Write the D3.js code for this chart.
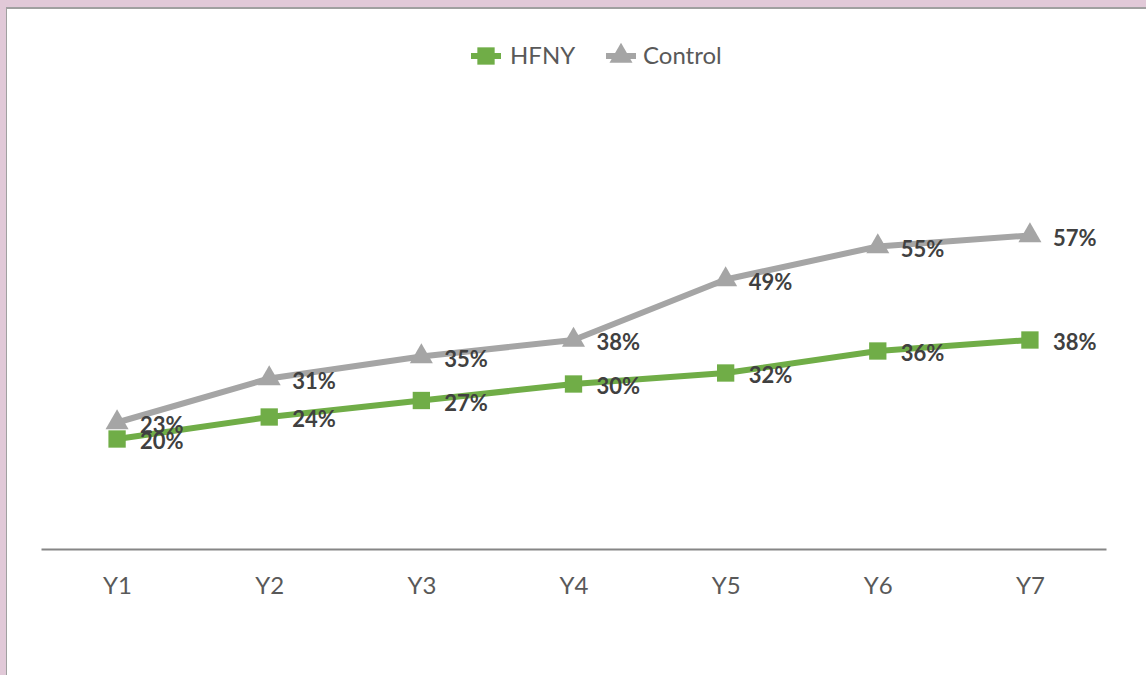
<!DOCTYPE html>
<html>
<head>
<meta charset="utf-8">
<script src="https://cdn.jsdelivr.net/npm/d3@7"></script>
<style>
  html, body { margin: 0; padding: 0; background: #fff; }
  svg { display: block; }
</style>
</head>
<body>
<script>
// --- Data ---
const categories = ["Y1", "Y2", "Y3", "Y4", "Y5", "Y6", "Y7"];
const hfnyValues = [0.20, 0.24, 0.27, 0.30, 0.32, 0.36, 0.38];
const controlValues = [0.23, 0.31, 0.35, 0.38, 0.49, 0.55, 0.57];
const seriesNames = ["HFNY", "Control"];

const W = 1146, H = 675;
const font = "Lato, 'Open Sans', sans-serif";

const svg = d3.select("body").append("svg")
    .attr("width", W)
    .attr("height", H);

// frame: pink window edge + thin gray shadow
svg.append("rect").attr("width", W).attr("height", H).attr("fill", "#e1c9d8");
svg.append("rect").attr("x", 6).attr("y", 7).attr("width", W - 6).attr("height", H - 7).attr("fill", "#a0a0a0");
svg.append("rect").attr("x", 7).attr("y", 9).attr("width", W - 7).attr("height", H - 9).attr("fill", "#ffffff");

// scales
const x = d3.scalePoint().domain(categories).range([41, 1106]).padding(0.5);
const y = d3.scaleLinear().domain([0, 0.8]).range([549, 109]);

// category axis
const xAxis = svg.append("g")
    .attr("transform", `translate(0,${y(0)})`)
    .call(d3.axisBottom(x).tickSize(0).tickPadding(28));
xAxis.select(".domain").attr("stroke", "#868686").attr("stroke-width", 2);
xAxis.selectAll("text")
    .attr("fill", "#595959")
    .style("font-family", font)
    .style("font-size", "24px");

const series = [
    { name: seriesNames[0], values: hfnyValues, color: "#70ad47", shape: d3.symbolSquare, size: 300 },
    { name: seriesNames[1], values: controlValues, color: "#a5a5a5", shape: d3.symbolTriangle, size: 230 }
];

const line = d3.line()
    .x((d, i) => x(categories[i]))
    .y(d => y(d));

// draw control first so HFNY sits on top
series.slice().reverse().forEach(s => {
    const g = svg.append("g");
    g.append("path")
        .attr("d", line(s.values))
        .attr("fill", "none")
        .attr("stroke", s.color)
        .attr("stroke-width", 6)
        .attr("stroke-linejoin", "round");
    g.selectAll("path.mk")
        .data(s.values)
        .enter().append("path")
        .attr("class", "mk")
        .attr("d", d3.symbol().type(s.shape).size(s.size))
        .attr("transform", (d, i) => `translate(${x(categories[i])},${y(d)})`)
        .attr("fill", s.color);
});

// data labels (right of the point)
series.forEach(s => {
    svg.append("g").selectAll("text")
        .data(s.values)
        .enter().append("text")
        .attr("x", (d, i) => x(categories[i]) + 23)
        .attr("y", d => y(d) + 10)
        .attr("fill", "#404040")
        .style("font-family", font)
        .style("font-size", "22px")
        .style("font-weight", "bold")
        .text(d => Math.round(d * 100) + "%");
});

// legend
const legendPos = [{ x: 486, tx: 510 }, { x: 621, tx: 643 }];
series.forEach((s, i) => {
    const lg = svg.append("g").attr("transform", `translate(${legendPos[i].x},56)`);
    lg.append("line")
        .attr("x1", -15).attr("x2", 15)
        .attr("stroke", s.color).attr("stroke-width", 6);
    lg.append("path")
        .attr("d", d3.symbol().type(s.shape).size(s.size))
        .attr("fill", s.color);
    svg.append("text")
        .attr("x", legendPos[i].tx)
        .attr("y", 56)
        .attr("dy", "0.35em")
        .attr("fill", "#595959")
        .style("font-family", font)
        .style("font-size", "24px")
        .text(s.name);
});
</script>
</body>
</html>
